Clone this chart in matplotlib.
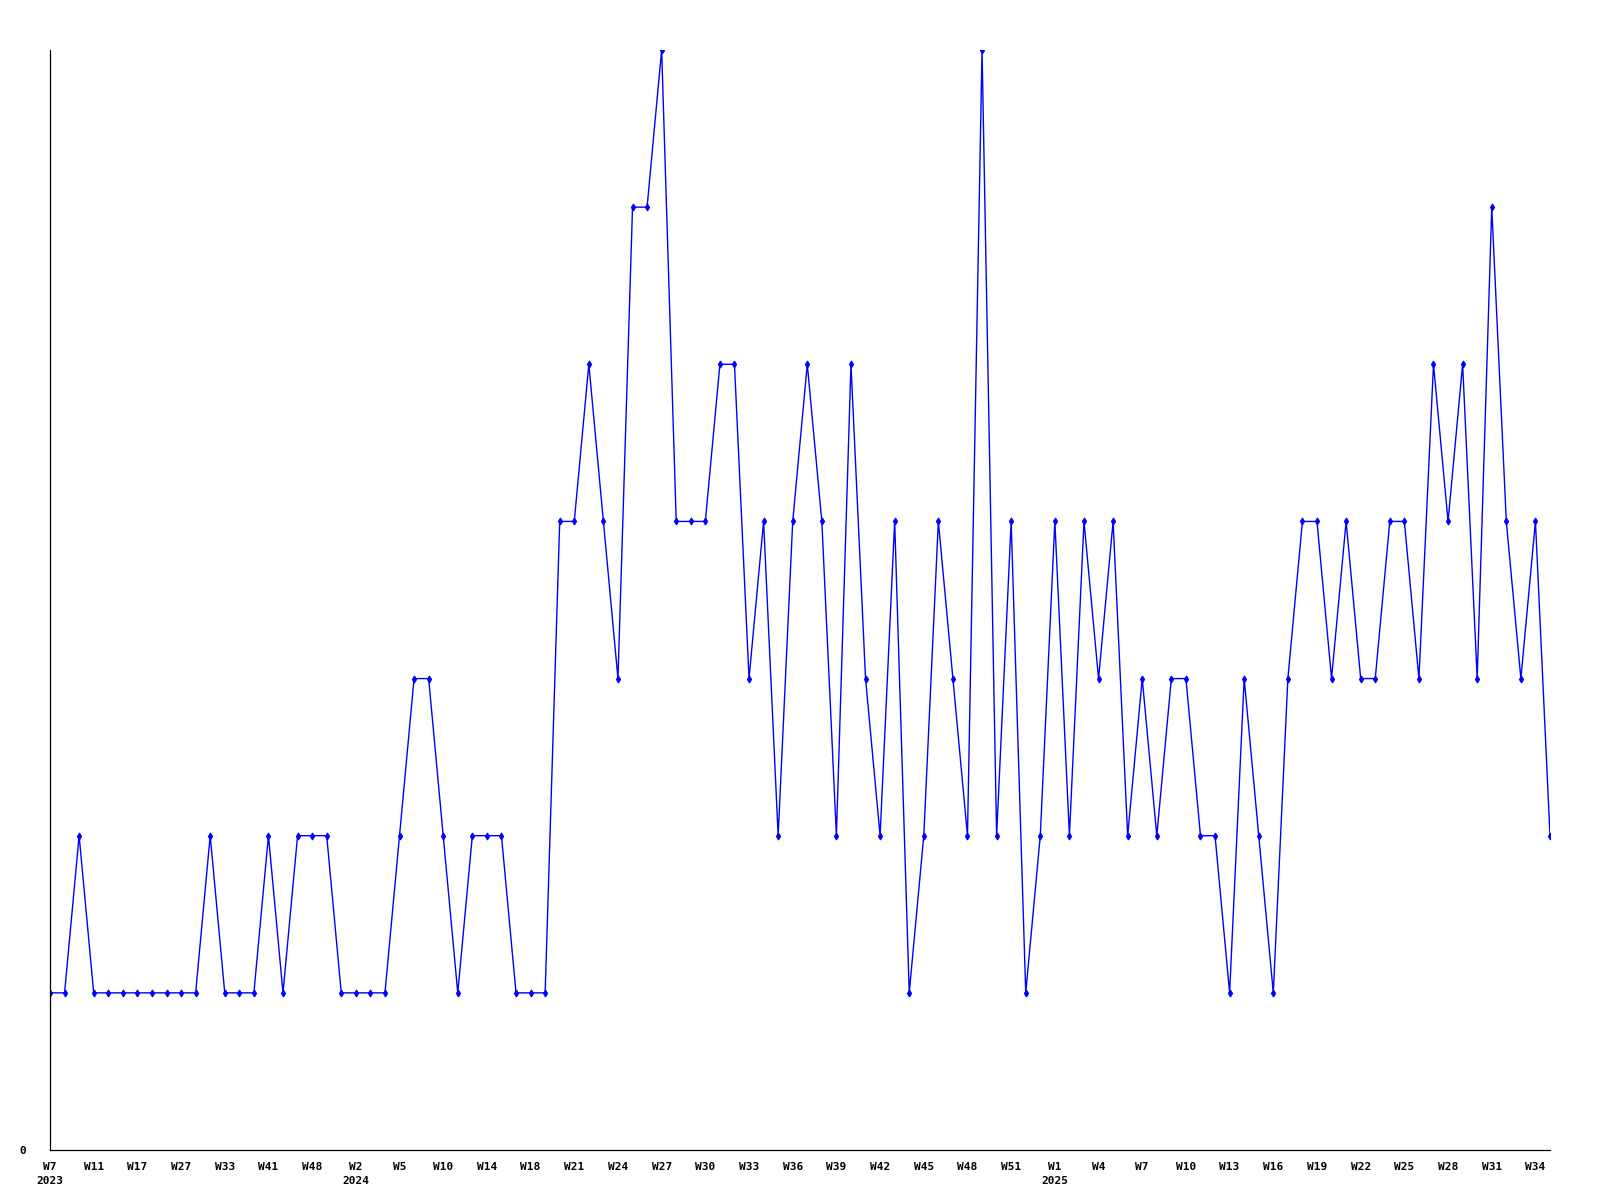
import matplotlib
matplotlib.use('Agg')
from matplotlib import pyplot as plt

# weekly counts, one value per point
values = [1, 1, 2, 1, 1, 1, 1, 1, 1, 1, 1, 2, 1, 1, 1, 2, 1, 2, 2, 2,
          1, 1, 1, 1, 2, 3, 3, 2, 1, 2, 2, 2, 1, 1, 1, 4, 4, 5, 4, 3,
          6, 6, 7, 4, 4, 4, 5, 5, 3, 4, 2, 4, 5, 4, 2, 5, 3, 2, 4, 1,
          2, 4, 3, 2, 7, 2, 4, 1, 2, 4, 2, 4, 3, 4, 2, 3, 2, 3, 3, 2,
          2, 1, 3, 2, 1, 3, 4, 4, 3, 4, 3, 3, 4, 4, 3, 5, 4, 5, 3, 6,
          4, 3, 4, 2]

# one label every third point
tick_labels = ['W7\n2023', 'W11', 'W17', 'W27', 'W33', 'W41', 'W48',
               'W2\n2024', 'W5', 'W10', 'W14', 'W18', 'W21', 'W24', 'W27',
               'W30', 'W33', 'W36', 'W39', 'W42', 'W45', 'W48', 'W51',
               'W1\n2025', 'W4', 'W7', 'W10', 'W13', 'W16', 'W19', 'W22',
               'W25', 'W28', 'W31', 'W34']

x = list(range(len(values)))

fig = plt.figure(figsize=(16, 12), dpi=100)
ax = fig.add_axes([50/1600, 50/1200, 1500/1600, 1100/1200])

ax.plot(x, values, color='#0000ff', lw=1.0, marker='d', ms=3.5, mew=0.8)

ax.set_xlim(0, len(values) - 1)
ax.set_ylim(0, 7)

fnt = dict(family='DejaVu Sans Mono', fontsize=8, fontweight='bold')
ax.set_xticks(x[::3])
ax.set_xticklabels(tick_labels, linespacing=1.45, ha='center', va='top', **fnt)
ax.set_yticks([0])
ax.set_yticklabels(['0'], **fnt)
ax.tick_params(axis='x', length=0, pad=9)
ax.tick_params(axis='y', length=0, pad=17)

for s in ['top', 'right']:
	ax.spines[s].set_visible(False)
for s in ['left', 'bottom']:
	ax.spines[s].set_linewidth(0.9)
	ax.spines[s].set_color('black')

fig.savefig('out.png', dpi=100)
